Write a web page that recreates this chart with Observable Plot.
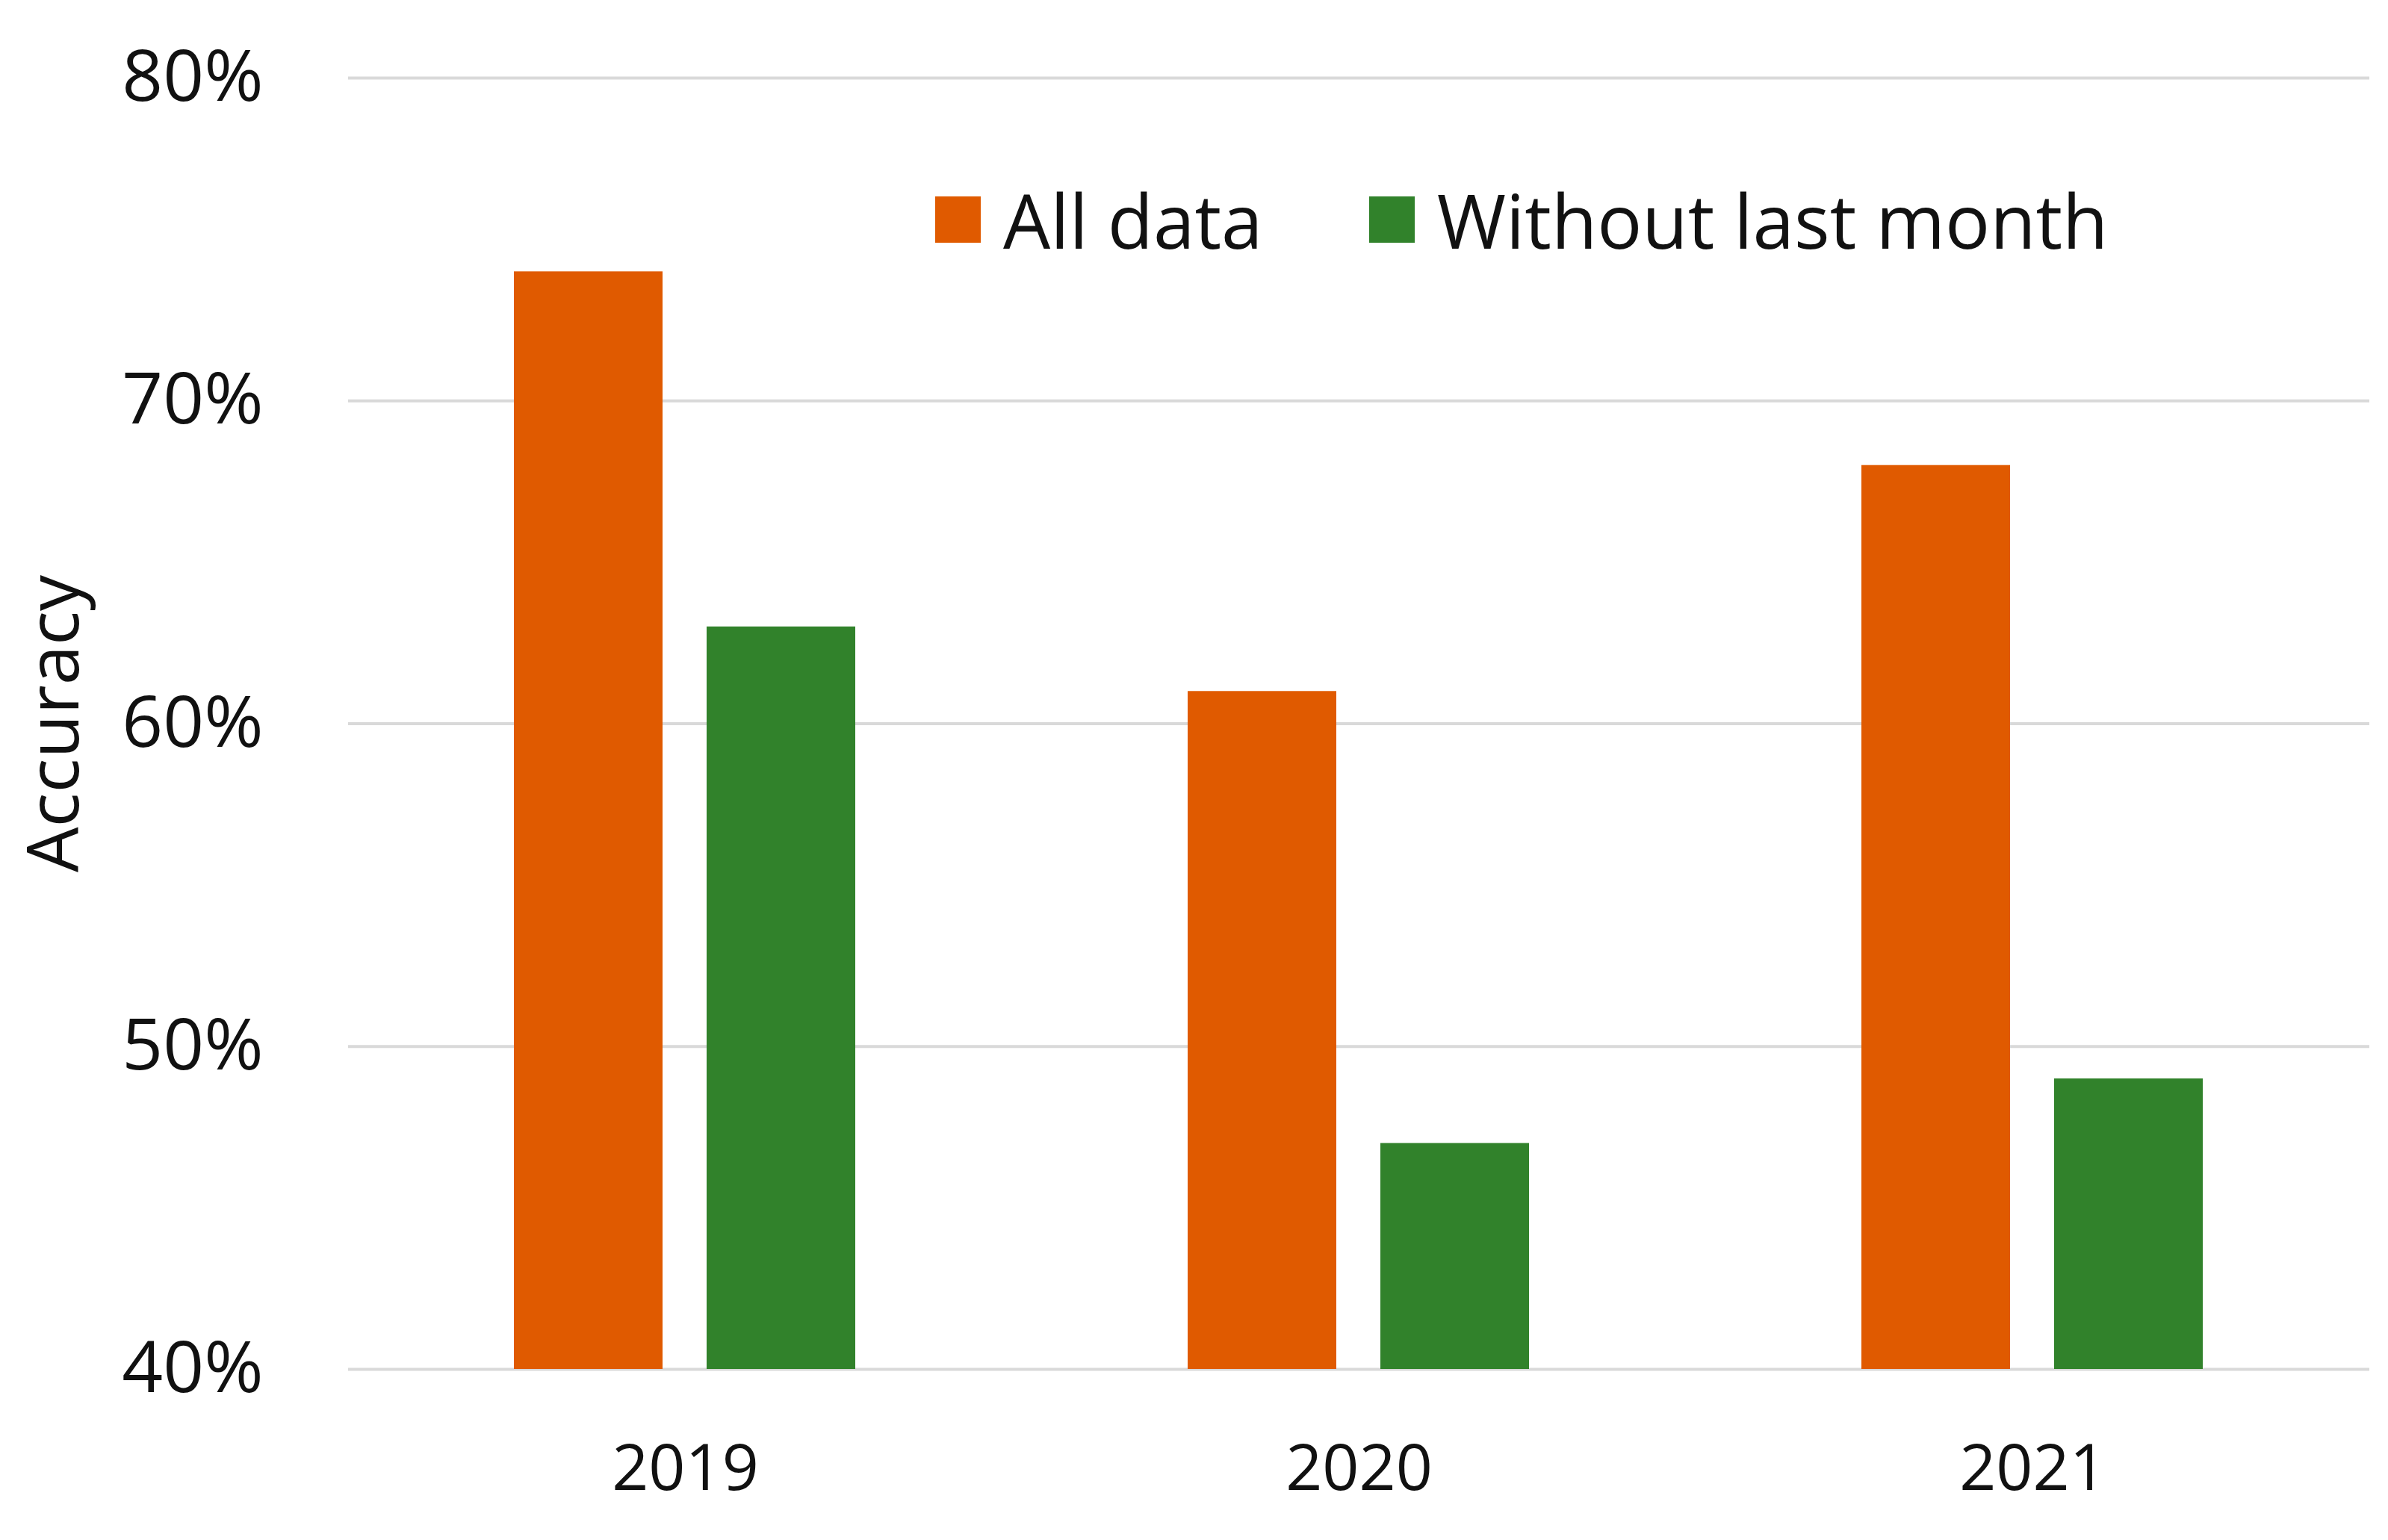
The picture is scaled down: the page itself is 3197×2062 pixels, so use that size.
<!DOCTYPE html>
<html>
<head>
<meta charset="utf-8">
<script src="https://cdn.jsdelivr.net/npm/d3@7"></script>
<script src="https://cdn.jsdelivr.net/npm/@observablehq/plot@0.6"></script>
<style>
  html, body { margin: 0; padding: 0; background: #ffffff; overflow: hidden; }
  #wrap { position: relative; width: 3197px; height: 2062px; font-family: "Open Sans", sans-serif; }
  #wrap svg { display: block; }
  #legend { position: absolute; left: 1252px; top: 244px; display: flex; align-items: center; font-size: 100px; color: #111; line-height: 1; }
  .item { display: flex; align-items: center; }
  .sw { width: 61px; height: 62px; margin-right: 30px; }
</style>
</head>
<body>
<div id="wrap"></div>
<script>
// ---- data ----
const years = ["2019", "2020", "2021"];
const series = ["All data", "Without last month"];
const allData = [74, 61, 68];
const withoutLastMonth = [63, 47, 49];
const yTicks = [40, 50, 60, 70, 80];
const seriesColors = ["#E05A00", "#31822B"];
const yLabel = "Accuracy";

const values = [allData, withoutLastMonth];
const rows = [];
years.forEach((yr, i) => {
  series.forEach((s, j) => rows.push({year: yr, series: s, value: values[j][i]}));
});

const chart = Plot.plot({
  width: 3197,
  height: 2062,
  marginLeft: 465,
  marginRight: 24,
  marginTop: 104,
  marginBottom: 229,
  style: {fontFamily: "Open Sans, sans-serif", color: "#111", background: "#fff"},
  fx: {domain: years, padding: 0, label: null},
  x: {domain: series, axis: null, paddingInner: 0.228, paddingOuter: 0.857},
  y: {domain: [40, 80], clamp: true, label: null},
  color: {domain: series, range: seriesColors},
  marks: [
    Plot.gridY(yTicks, {stroke: "#d9d9d9", strokeOpacity: 1, strokeWidth: 4}),
    Plot.barY(rows, {fx: "year", x: "series", y: "value", fill: "series"}),
    Plot.axisY(yTicks, {
      tickSize: 0, tickPadding: 114, fontSize: 96,
      tickFormat: d => d + "%",
      label: yLabel, labelAnchor: "center", labelArrow: "none", labelOffset: 430
    }),
    Plot.axisFx({anchor: "bottom", tickSize: 0, tickPadding: 100, fontSize: 86, label: null})
  ]
});

const wrap = document.getElementById("wrap");
wrap.appendChild(chart);

// legend (inside the plot area, as in the reference)
const legend = document.createElement("div");
legend.id = "legend";
series.forEach((s, j) => {
  const item = document.createElement("div");
  item.className = "item";
  if (j > 0) item.style.marginLeft = "142px";
  const sw = document.createElement("div");
  sw.className = "sw";
  sw.style.background = seriesColors[j];
  const t = document.createElement("span");
  t.textContent = s;
  item.appendChild(sw);
  item.appendChild(t);
  legend.appendChild(item);
});
wrap.appendChild(legend);
</script>
</body>
</html>
